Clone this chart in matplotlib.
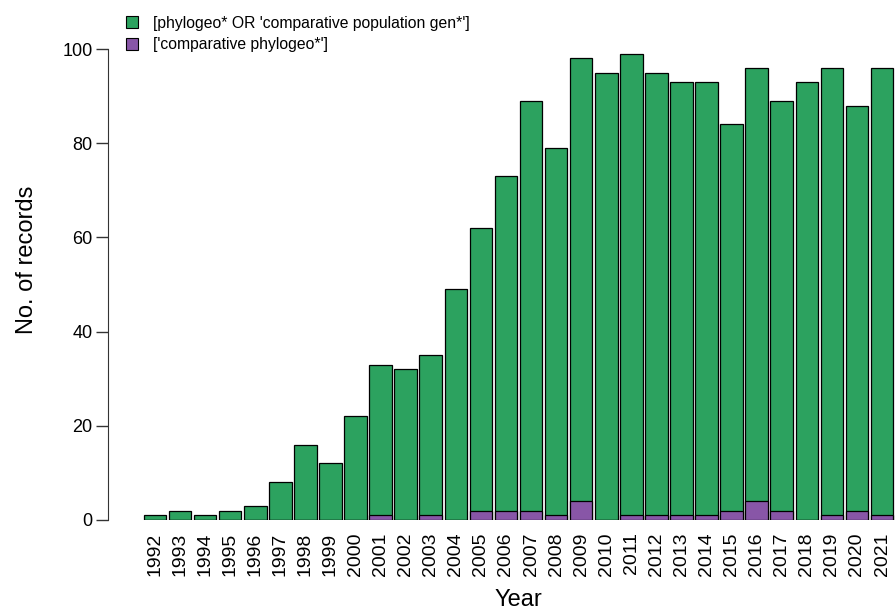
import matplotlib
matplotlib.use("Agg")
import matplotlib.pyplot as plt
from matplotlib.patches import Patch
import numpy as np

years = [str(y) for y in range(1992, 2022)]
total = [1, 2, 1, 2, 3, 8, 16, 12, 22, 33, 32, 35, 49, 62, 73, 89, 79, 98, 95, 99,
         95, 93, 93, 84, 96, 89, 93, 96, 88, 96]
comparative = [0, 0, 0, 0, 0, 0, 0, 0, 0, 1, 0, 1, 0, 2, 2, 2, 1, 4, 0, 1,
               1, 1, 1, 2, 4, 2, 0, 1, 2, 1]
labels = ["[phylogeo* OR 'comparative population gen*']", "['comparative phylogeo*']"]

green = "#2ca25f"
purple = "#8856a7"

plt.rcParams['font.family'] = ['Liberation Sans', 'DejaVu Sans']

fig = plt.figure(figsize=(8.96, 6.12), dpi=100)
W, H = 896, 612
left_px, right_px = 108, 896
y0_px, y100_px = 520, 49
ppu = (y0_px - y100_px) / 100.0
ymin, ymax = 0, 104
bottom_px = y0_px
top_px = y0_px - ymax * ppu
ax = fig.add_axes([left_px / W, 1 - bottom_px / H, (right_px - left_px) / W, (bottom_px - top_px) / H])

x = np.arange(len(years))
ax.bar(x, total, width=0.9, color=green, edgecolor="black", linewidth=0.9, zorder=2)
ax.bar(x, comparative, width=0.9, color=purple, edgecolor="black", linewidth=0.9, zorder=3)

spacing = 25.07
ax.set_xlim(-(155 - left_px) / spacing, 29 + (right_px - 882) / spacing)
ax.set_ylim(ymin, ymax)

for s in ["top", "right", "bottom"]:
    ax.spines[s].set_visible(False)
ax.spines["left"].set_bounds(0, 100)
ax.spines["left"].set_color("#333333")
ax.set_yticks([0, 20, 40, 60, 80, 100])
ax.tick_params(axis="y", length=9, width=1, color="#333333", labelsize=13, pad=2)
ax.set_xticks(x)
ax.set_xticklabels(years, rotation=90, fontsize=14)
ax.tick_params(axis="x", length=0, pad=9)
ax.set_ylabel("No. of records", fontsize=17)
ax.yaxis.set_label_coords((38 - left_px) / (right_px - left_px), (bottom_px - 260) / (bottom_px - top_px))
ax.set_xlabel("Year", fontsize=17, va="bottom")
ax.xaxis.set_label_coords((518 - left_px) / (right_px - left_px), -(611 - bottom_px) / (bottom_px - top_px))

handles = [Patch(facecolor=green, edgecolor="black", linewidth=0.8),
           Patch(facecolor=purple, edgecolor="black", linewidth=0.8)]
fig.legend(handles, labels, loc="upper left", bbox_to_anchor=(118 / W, 1 - 8 / H),
           frameon=False, fontsize=11.3, handlelength=0.8, handleheight=0.8,
           handletextpad=0.9, labelspacing=0.4, borderpad=0)

fig.savefig("out.png", dpi=100)
